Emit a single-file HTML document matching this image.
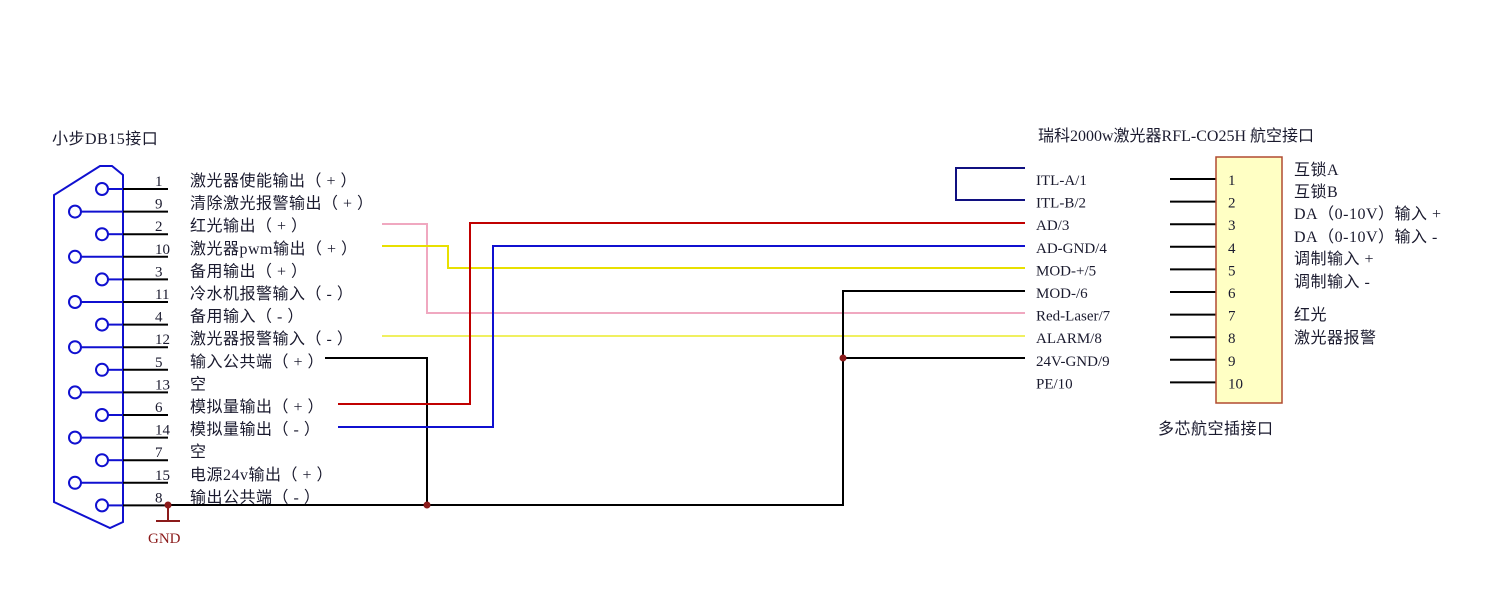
<!DOCTYPE html>
<html><head><meta charset="utf-8"><style>
body{margin:0;background:#fff;width:1501px;height:596px;overflow:hidden}
svg text{font-family:"Liberation Serif","Noto Sans CJK SC",serif;fill:#1a1a2e;font-size:15px}
svg text.c{font-size:16px;letter-spacing:0.5px}
</style></head><body>
<svg width="1501" height="596" viewBox="0 0 1501 596" xmlns="http://www.w3.org/2000/svg">
<text x="52" y="144" class="c">小步DB15接口</text>
<path d="M54 195 L54 502 L110 528 L123 522 L123 175 L112 166 L100 166 Z" fill="none" stroke="#1010d0" stroke-width="2"/>
<g id="pins" stroke-width="2"></g>
<script>
var g=document.getElementById('pins'),ns='http://www.w3.org/2000/svg';
var nums=['1','9','2','10','3','11','4','12','5','13','6','14','7','15','8'];
var labs=['激光器使能输出（ + ）','清除激光报警输出（ + ）','红光输出（ + ）','激光器pwm输出（ + ）','备用输出（ + ）','冷水机报警输入（ - ）','备用输入（ - ）','激光器报警输入（ - ）','输入公共端（ + ）','空','模拟量输出（ + ）','模拟量输出（ - ）','空','电源24v输出（ + ）','输出公共端（ - ）'];
function el(t,a,txt){var e=document.createElementNS(ns,t);for(var k in a)e.setAttribute(k,a[k]);if(txt)e.textContent=txt;g.parentNode.appendChild(e);return e;}
for(var i=0;i<15;i++){var y=189+22.6*i,cx=(i%2==0)?102:75;
el('line',{x1:cx+6,y1:y,x2:123,y2:y,stroke:'#1010d0','stroke-width':2});
el('line',{x1:123,y1:y,x2:168,y2:y,stroke:'#000','stroke-width':2});
el('circle',{cx:cx,cy:y,r:6,fill:'#fff',stroke:'#1010d0','stroke-width':2});
el('text',{x:155,y:y-3,'font-size':'16'},nums[i]);
el('text',{x:190,y:y-3,'class':'c'},labs[i]);}
var rl=['ITL-A/1','ITL-B/2','AD/3','AD-GND/4','MOD-+/5','MOD-/6','Red-Laser/7','ALARM/8','24V-GND/9','PE/10'];
for(var j=0;j<10;j++){var y2=179+22.6*j;
el('line',{x1:1170,y1:y2,x2:1216,y2:y2,stroke:'#000','stroke-width':2});
el('text',{x:1036,y:y2+6,'font-size':'16'},rl[j]);}
el('rect',{x:1216,y:157,width:66,height:246,fill:'#ffffc4',stroke:'#b04a30','stroke-width':1.5});
for(var j=0;j<10;j++){el('text',{x:1228,y:179+22.6*j+6,'font-size':'14'},String(j+1));}
</script>
<g fill="none" stroke-width="2">
<polyline points="382,224 427,224 427,313 1025,313" stroke="#f0a8c0"/>
<polyline points="382,246 448,246 448,268 1025,268" stroke="#e8e000"/>
<polyline points="382,336 1025,336" stroke="#f0f060"/>
<polyline points="325,358 427,358 427,505" stroke="#000"/>
<polyline points="338,404 470,404 470,223 1025,223" stroke="#c00000"/>
<polyline points="338,427 493,427 493,246 1025,246" stroke="#1010d0"/>
<polyline points="168,505 843,505 843,291 1025,291" stroke="#000"/>
<polyline points="843,358 1025,358" stroke="#000"/>
<polyline points="1025,168 956,168 956,200 1025,200" stroke="#101080"/>
<polyline points="168,505 168,521" stroke="#8b1a1a"/>
<polyline points="156,521 180,521" stroke="#8b1a1a"/>
</g>
<circle cx="168" cy="505" r="3.5" fill="#8b1a1a"/>
<circle cx="427" cy="505" r="3.5" fill="#8b1a1a"/>
<circle cx="843" cy="358" r="3.5" fill="#8b1a1a"/>
<text x="148" y="543" style="fill:#8b1a1a" font-size="16">GND</text>
<text x="1038" y="141" class="c" style="letter-spacing:0">瑞科2000w激光器RFL-CO25H  航空接口</text>
<text x="1294" y="175" class="c">互锁A</text>
<text x="1294" y="197" class="c">互锁B</text>
<text x="1294" y="219" class="c">DA（0-10V）输入 +</text>
<text x="1294" y="242" class="c">DA（0-10V）输入 -</text>
<text x="1294" y="264" class="c">调制输入 +</text>
<text x="1294" y="287" class="c">调制输入 -</text>
<text x="1294" y="320" class="c">红光</text>
<text x="1294" y="343" class="c">激光器报警</text>
<text x="1158" y="434" class="c">多芯航空插接口</text>
</svg>
</body></html>
